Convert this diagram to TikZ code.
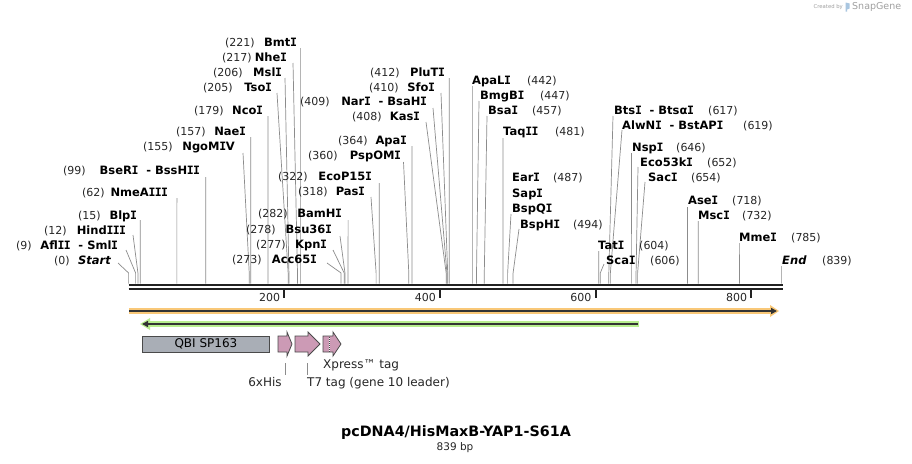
\documentclass[tikz,border=0pt]{standalone}
\usepackage{fontspec}
\setmainfont{DejaVu Sans}
\newfontfamily\monoIfont{DejaVu Sans Mono}
\usetikzlibrary{arrows.meta}
\definecolor{leadc}{HTML}{8C8C8C}
\definecolor{bbc}{HTML}{222222}
\definecolor{orL}{HTML}{F9C878}
\definecolor{grL}{HTML}{B8EE8E}
\definecolor{darkL}{HTML}{333333}
\definecolor{featgray}{HTML}{A9AEB6}
\definecolor{featpink}{HTML}{CC9AB5}
\definecolor{featedge}{HTML}{4A4A4A}
\definecolor{credit}{HTML}{A0A0A0}
\definecolor{sglogo}{HTML}{A9C6E0}
% serifed capital I, as in the reference's bold face
\newcommand\SI{\makebox[0.55em]{\monoIfont\bfseries I}}
\tikzset{
  enz/.style={font=\fontsize{11.5}{13}\selectfont\bfseries, inner sep=0pt, text=black},
  enzn/.style={font=\fontsize{11}{13}\selectfont, inner sep=0pt, text=black!85},
  leader/.style={draw=leadc, line width=0.7pt},
  bb/.style={draw=bbc, line width=2pt},
  ticklab/.style={font=\fontsize{11}{13}\selectfont, inner sep=0pt, text=black!85},
  featlab/.style={font=\fontsize{12}{14}\selectfont, inner sep=0pt, text=black!85},
  featbox/.style={draw=featedge, line width=0.8pt},
}
% left labels: id, y, numx, num, nameend, name, linex, liney, bp
\newcommand\Lenz[9]{%
  \node[enzn, anchor=base west] (#1n) at ({#3},{#2+4.2}) {(#4)};
  \node[enz, anchor=base east] (#1) at ({#5},{#2+4.2}) {#6};
  \coordinate (#1a) at ({#7},{#8});
  \coordinate (#1b) at ({128.6+0.7783*#9},273);
  \coordinate (#1c) at ({128.6+0.7783*#9},283.6);
  \draw[leader] (#1a) -- (#1b) -- (#1c);
}
% right labels: id, y, namex, name, numx, num, linex, liney, bp
\newcommand\Renz[9]{%
  \node[enz, anchor=base west] (#1) at ({#3},{#2+4.2}) {#4};
  \node[enzn, anchor=base west] (#1n) at ({#5},{#2+4.2}) {(#6)};
  \coordinate (#1a) at ({#7},{#8});
  \coordinate (#1b) at ({128.6+0.7783*#9},273);
  \coordinate (#1c) at ({128.6+0.7783*#9},283.6);
  \draw[leader] (#1a) -- (#1b) -- (#1c);
}
\begin{document}
\begin{tikzpicture}[x=1pt,y=-1pt]
\useasboundingbox (0,0) rectangle (912,463);
\fill[white] (0,0) rectangle (912,463);

% credit
\node[font=\fontsize{5.3}{6}\selectfont, text=credit, inner sep=0pt, anchor=east] (cr) at (843,7) {Created by};
\fill[sglogo] (845.5,2.5) -- (849.5,3.5) -- (849.5,8.5) -- (847,9.5) -- (847,11.5) -- (845.5,11.5) -- cycle;
\node[font=\fontsize{9.5}{10}\selectfont, text=credit, inner sep=0pt, anchor=west] (sg) at (852,7) {SnapGene};

% left-hand enzyme labels
\Lenz{bmt}{42}{225}{221}{297}{Bmt\SI}{300.6}{48}{221}
\Lenz{nhe}{57}{222}{217}{287}{Nhe\SI}{293}{63}{217}
\Lenz{msl}{72}{213}{206}{282}{Msl\SI}{285}{78}{206}
\Lenz{tso}{87}{203}{205}{272}{Tso\SI}{277}{93}{205}
\Lenz{nco}{110}{194}{179}{263}{Nco\SI}{267.9}{116}{179}
\Lenz{nae}{131}{176}{157}{246}{Nae\SI}{250.8}{137}{157}
\Lenz{ngo}{146}{143}{155}{235}{NgoM\SI V}{243}{153}{155}
\Lenz{bse}{170}{63}{99}{200}{BseR\SI\ \ -\ BssH\SI\SI}{205.7}{177}{99}
\Lenz{nme}{192}{82}{62}{168}{NmeA\SI\SI\SI}{176.9}{198}{62}
\Lenz{blp}{215}{78}{15}{137}{Blp\SI}{140.3}{220}{15}
\Lenz{hind}{230}{44}{12}{126}{Hind\SI\SI\SI}{133}{235}{12}
\Lenz{afl}{245}{16}{9}{118}{Afl\SI\SI\ \ -\ Sml\SI}{126}{250}{9}
\Lenz{start}{260}{54}{0}{111}{\itshape Start}{118}{263}{0}
\Lenz{plu}{72}{370}{412}{445}{PluT\SI}{449.3}{78}{412}
\Lenz{sfo}{87}{369}{410}{435}{Sfo\SI}{441}{93}{410}
\Lenz{nar}{101}{300}{409}{427}{Nar\SI\ \ -\ BsaH\SI}{433}{108}{409}
\Lenz{kas}{116}{352}{408}{420}{Kas\SI}{426}{122}{408}
\Lenz{apa}{140}{338}{364}{407}{Apa\SI}{411.9}{146}{364}
\Lenz{psp}{155}{308}{360}{401}{PspOM\SI}{403.5}{162}{360}
\Lenz{eco}{176}{278}{322}{372}{EcoP15\SI}{379.2}{183}{322}
\Lenz{pas}{191}{298}{318}{365}{Pas\SI}{371}{197}{318}
\Lenz{bam}{213}{258}{282}{342}{BamH\SI}{348.1}{220}{282}
\Lenz{bsu}{229}{246}{278}{332}{Bsu36\SI}{340}{236}{278}
\Lenz{kpn}{244}{256}{277}{327}{Kpn\SI}{333}{250}{277}
\Lenz{acc}{259}{232}{273}{317}{Acc65\SI}{327}{263}{273}

% right-hand enzyme labels
\Renz{apal}{80}{472}{ApaL\SI}{527}{442}{472.6}{86}{442}
\Renz{bmg}{95}{480}{BmgB\SI}{540}{447}{479}{101}{447}
\Renz{bsa}{110}{488}{Bsa\SI}{532}{457}{487}{116}{457}
\Renz{taq}{131}{503}{Taq\SI\SI}{555}{481}{503.0}{138}{481}
\node[enz, anchor=base west] (ear) at (512,181.2) {Ear\SI};
\node[enzn, anchor=base west] (earn) at (553,181.2) {(487)};
\node[enz, anchor=base west] (sap) at (512,197.2) {Sap\SI};
\node[enz, anchor=base west] (bspq) at (512,212.2) {BspQ\SI};
\coordinate (bspqa) at (511,214);
\coordinate (bspqb) at ({128.6+0.7783*487},273);
\coordinate (bspqc) at ({128.6+0.7783*487},283.6);
\draw[leader] (bspqa) -- (bspqb) -- (bspqc);
\Renz{bsph}{224}{520}{BspH\SI}{573}{494}{519}{229}{494}
\Renz{bts}{110}{614}{Bts\SI\ \ -\ Btsα\SI}{708}{617}{613}{116}{617}
\Renz{alw}{125}{622}{AlwN\SI\ \ -\ BstAP\SI}{743}{619}{622}{130}{619}
\Renz{nsp}{147}{632}{Nsp\SI}{676}{646}{631.4}{153}{646}
\Renz{eck}{162}{640}{Eco53k\SI}{707}{652}{638}{167}{652}
\Renz{sac}{177}{648}{Sac\SI}{691}{654}{645}{182}{654}
\Renz{tat}{245}{598}{Tat\SI}{639}{604}{598.7}{251}{604}
\Renz{sca}{260}{606}{Sca\SI}{650}{606}{604}{264}{606}
\Renz{ase}{200}{688}{Ase\SI}{732}{718}{687.4}{207}{718}
\Renz{msc}{215}{698}{Msc\SI}{742}{732}{698.3}{221}{732}
\Renz{mme}{237}{739}{Mme\SI}{791}{785}{739.6}{243}{785}
\Renz{endl}{260}{782}{\itshape End}{822}{839}{781.6}{266}{839}

% backbone
\draw[bb] (128.6,285) -- (782.6,285);
\draw[bb] (128.6,289) -- (782.6,289);
\foreach \t/\xx in {200/284.3,400/440,600/595.6,800/751.2}{
  \draw[draw=bbc, line width=2pt] (\xx,289) -- (\xx,297.5);
  \node[ticklab, anchor=east] (tick\t) at (\xx-4,297) {\t};
}

% orange (forward) arrow
\draw[draw=orL, line width=6pt] (129,311) -- (772,311);
\fill[orL] (770,305) -- (779,311) -- (770,317) -- cycle;
\draw[draw=darkL, line width=1.8pt, -{Triangle[length=6pt,width=6pt]}] (129,311) -- (777,311);

% green (reverse) arrow
\draw[draw=grL, line width=6pt] (148,324) -- (639,324);
\fill[grL] (150,318) -- (140,324) -- (150,330) -- cycle;
\draw[draw=darkL, line width=1.8pt, -{Triangle[length=6pt,width=6pt]}] (638,324) -- (142,324);

% features
\node[featbox, fill=featgray, minimum width=127pt, minimum height=16pt, inner sep=0pt, anchor=west, font=\fontsize{12}{14}\selectfont] (qbi) at (142,344) {QBI SP163};
\draw[featbox, fill=featpink] (278,336) -- (287,336) -- (287,332) -- (292,344) -- (287,356) -- (287,352) -- (278,352) -- cycle;
\coordinate (hisf) at (285.5,363);
\draw[featbox, fill=featpink] (295,336) -- (308,336) -- (308,332) -- (320,344) -- (308,356) -- (308,352) -- (295,352) -- cycle;
\coordinate (t7f) at (307.5,363);
\draw[featbox, fill=featpink] (323,336) -- (333,336) -- (333,332) -- (341,344) -- (333,356) -- (333,352) -- (323,352) -- cycle;
\draw[draw=white, line width=0.8pt] (329.5,336.5) -- (329.5,351.5);
\draw[draw=featedge, line width=0.8pt, dash pattern=on 1pt off 1pt] (329.5,336.5) -- (329.5,351.5);

\node[featlab, anchor=north] (his) at (265,377) {6xHis};
\node[featlab, anchor=north west] (t7) at (307,377) {T7 tag (gene 10 leader)};
\node[featlab, anchor=north west] (xp) at (323,360) {Xpress™ tag};
\coordinate (hisl) at (285.5,375);
\coordinate (t7l) at (307.5,375);
\draw[leader] (hisf) -- (hisl);
\draw[leader] (t7f) -- (t7l);

% title
\node[font=\fontsize{14.3}{16}\selectfont\bfseries, inner sep=0pt] (title) at (456,433) {pcDNA4/HisMaxB-YAP1-S61A};
\node[font=\fontsize{10.5}{12}\selectfont, inner sep=0pt, text=black!85] (len) at (455,448) {839 bp};
\end{tikzpicture}
\end{document}
